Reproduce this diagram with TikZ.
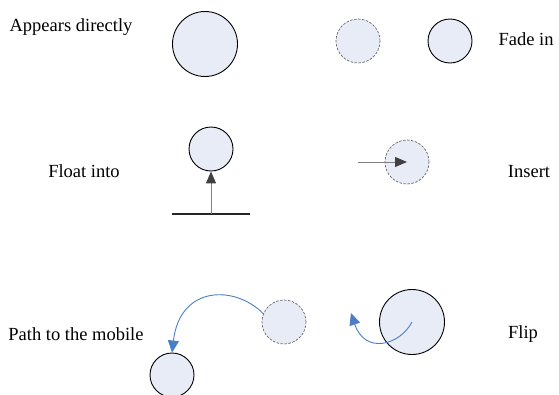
\documentclass[tikz,border=0pt]{standalone}
\usepackage{fontspec}
\setmainfont{Liberation Serif}
\usetikzlibrary{arrows.meta}
\definecolor{cfill}{HTML}{E8ECF7}
\definecolor{cblue}{HTML}{4A7EC6}
\definecolor{cdark}{HTML}{404040}
\begin{document}
\begin{tikzpicture}[x=1pt,y=-1pt,
  lbl/.style={font=\fontsize{18.5}{22}\selectfont, inner sep=0pt},
  ball/.style={circle, draw=black, fill=cfill, line width=0.9pt, inner sep=0pt, minimum size=44pt},
  bigball/.style={ball, minimum size=65pt},
  ghost/.style={ball, draw=cdark!80, dashed, dash pattern=on 2.5pt off 1.5pt, line width=0.7pt},
  grayarrow/.style={draw=gray, line width=1pt, -{Triangle[length=12pt,width=10pt,color=cdark]}},
  bluearrow/.style={draw=cblue, line width=0.9pt, -{Triangle[length=12pt,width=11pt,color=cblue]}}]
\useasboundingbox (0,0) rectangle (559,394);
% row 1
\node[lbl] (t1) at (71,27) {Appears directly};
\node[bigball] (c1) at (205,44) {};
\node[ghost] (c2) at (358,41) {};
\node[ball] (c3) at (450,41) {};
\node[lbl] (t2) at (526,39) {Fade in};
% row 2
\node[lbl] (t3) at (84,171) {Float into};
\node[ball] (c4) at (211,149) {};
\coordinate (gl) at (172,214);
\coordinate (gr) at (250,214);
\coordinate (gm) at (211,214);
\draw[line width=1.5pt, draw=black!85] (gl) -- (gr);
\draw[grayarrow] (gm) -- (c4.south);
\node[ghost] (c5) at (407,162) {};
\coordinate (is) at (358,162);
\draw[grayarrow] (is) -- (c5.center);
\node[lbl] (t4) at (529,172) {Insert};
% row 3
\node[lbl] (t5) at (76,334) {Path to the mobile};
\node[ball] (c6) at (172,375) {};
\node[ghost] (c7) at (284,322) {};
\draw[bluearrow] (c7.158) .. controls (235,285) and (180,285) .. (c6.north);
\node[bigball] (c8) at (412,322) {};
\coordinate (ft) at (351,313);
\draw[bluearrow] (c8.center) .. controls (400,345) and (365,355) .. (ft);
\node[lbl] (t6) at (523,334) {Flip};
\end{tikzpicture}
\end{document}
